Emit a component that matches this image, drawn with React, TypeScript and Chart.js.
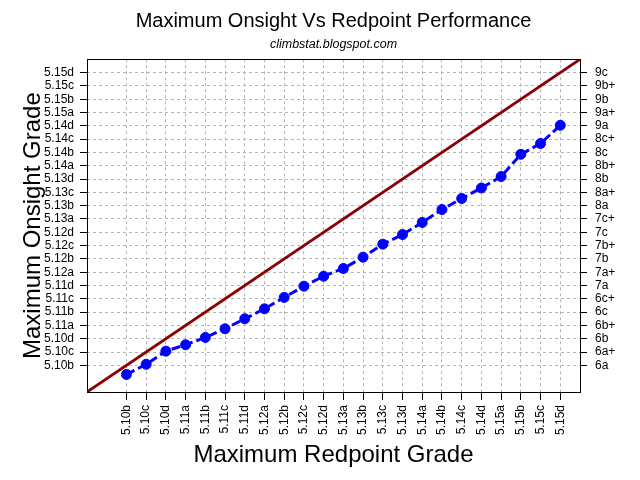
import React, { useEffect, useRef } from "react";
import { Chart, registerables } from "chart.js";

Chart.register(...registerables);

// Redpoint grades (x categories) and left-axis onsight grades (YDS)
const gradesYDS = [
  "5.10b", "5.10c", "5.10d", "5.11a", "5.11b", "5.11c", "5.11d",
  "5.12a", "5.12b", "5.12c", "5.12d", "5.13a", "5.13b", "5.13c", "5.13d",
  "5.14a", "5.14b", "5.14c", "5.14d", "5.15a", "5.15b", "5.15c", "5.15d",
];

// Right-axis French grades
const gradesFrench = [
  "6a", "6a+", "6b", "6b+", "6c", "6c+", "7a", "7a+", "7b", "7b+", "7c", "7c+",
  "8a", "8a+", "8b", "8b+", "8c", "8c+", "9a", "9a+", "9b", "9b+", "9c",
];

// Maximum onsight grade (in grade-index units) for each redpoint grade
const onsightIndex = [
  -0.68, 0.08, 1.07, 1.55, 2.1, 2.75, 3.5, 4.25, 5.11, 5.95, 6.7, 7.28,
  8.13, 9.11, 9.83, 10.74, 11.71, 12.54, 13.33, 14.19, 15.86, 16.67, 18.04,
];

// Equality reference line (onsight = redpoint)
const equalityLine = [-2, 23];

const AXIS_MIN = -2;
const AXIS_MAX = 23;
const FONT = "'Liberation Sans', Arial, Helvetica, sans-serif";
const GRID = "#b4b4b4";

const setIndexTicks = (scale: any) => {
  scale.ticks = gradesYDS.map((_, i) => ({ value: i }));
};

const boxPlugin = {
  id: "plotBox",
  beforeDatasetsDraw(chart: any) {
    const { ctx, chartArea: a } = chart;
    ctx.save();
    ctx.strokeStyle = "#000";
    ctx.lineWidth = 1;
    ctx.setLineDash([]);
    const l = Math.floor(a.left) + 0.5;
    const t = Math.floor(a.top) + 0.5;
    const r = Math.floor(a.right) + 0.5;
    const b = Math.floor(a.bottom) + 0.5;
    ctx.strokeRect(l, t, r - l, b - t);
    ctx.restore();
  },
};

export default function App() {
  const canvasRef = useRef<HTMLCanvasElement | null>(null);

  useEffect(() => {
    if (!canvasRef.current) return;
    const chart = new Chart(canvasRef.current, {
      type: "scatter",
      data: {
        datasets: [
          {
            label: "Onsight = Redpoint",
            data: equalityLine.map((v) => ({ x: v, y: v })),
            borderColor: "#8b0000",
            backgroundColor: "#8b0000",
            borderWidth: 2.8,
            pointRadius: 0,
            showLine: true,
          },
          {
            label: "Maximum Onsight",
            data: onsightIndex.map((v, i) => ({ x: i, y: v })),
            borderColor: "#0000ff",
            backgroundColor: "#0000ff",
            borderWidth: 3,
            borderDash: [9, 4],
            pointRadius: 5,
            pointBorderWidth: 1,
            showLine: true,
          },
        ],
      },
      options: {
        animation: false,
        responsive: false,
        layout: { padding: 0 },
        plugins: {
          legend: { display: false },
          tooltip: { enabled: false },
          title: {
            display: true,
            text: "Maximum Onsight Vs Redpoint Performance",
            color: "#000",
            fullSize: false,
            font: { family: FONT, size: 20, weight: "normal" },
            padding: { top: 9.4, bottom: 0 },
          },
          subtitle: {
            display: true,
            text: "climbstat.blogspot.com",
            color: "#000",
            fullSize: false,
            font: { family: FONT, size: 12.5, style: "italic", weight: "normal" },
            padding: { top: 3.8, bottom: 7.1 },
          },
        },
        scales: {
          x: {
            type: "linear",
            position: "bottom",
            min: AXIS_MIN,
            max: AXIS_MAX,
            afterBuildTicks: setIndexTicks,
            afterFit: (s: any) => {
              s.height = 88;
            },
            ticks: {
              autoSkip: false,
              minRotation: 90,
              maxRotation: 90,
              padding: 5,
              color: "#000",
              font: { family: FONT, size: 12 },
              callback: (v: any) => gradesYDS[Math.round(v)] ?? "",
            },
            grid: {
              color: GRID,
              lineWidth: 1,
              tickLength: 8,
              tickColor: "#000",
              tickWidth: 1,
              tickBorderDash: [],
            },
            border: { display: false, dash: [3, 3] },
            title: {
              display: true,
              text: "Maximum Redpoint Grade",
              color: "#000",
              font: { family: FONT, size: 24 },
              padding: { top: 0, bottom: 10 },
            },
          },
          y: {
            type: "linear",
            position: "left",
            min: AXIS_MIN,
            max: AXIS_MAX,
            afterBuildTicks: setIndexTicks,
            afterFit: (s: any) => {
              s.width = 87;
            },
            ticks: {
              autoSkip: false,
              padding: 6,
              color: "#000",
              font: { family: FONT, size: 12 },
              callback: (v: any) => gradesYDS[Math.round(v)] ?? "",
            },
            grid: {
              color: GRID,
              lineWidth: 1,
              tickLength: 7,
              tickColor: "#000",
              tickWidth: 1,
              tickBorderDash: [],
            },
            border: { display: false, dash: [3, 3] },
            title: {
              display: true,
              text: "Maximum Onsight Grade",
              color: "#000",
              font: { family: FONT, size: 24 },
              padding: { top: 18.5, bottom: 0 },
            },
          },
          y2: {
            type: "linear",
            position: "right",
            min: AXIS_MIN,
            max: AXIS_MAX,
            afterBuildTicks: setIndexTicks,
            afterFit: (s: any) => {
              s.width = 60;
            },
            ticks: {
              autoSkip: false,
              padding: 8,
              color: "#000",
              font: { family: FONT, size: 12 },
              callback: (v: any) => gradesFrench[Math.round(v)] ?? "",
            },
            grid: {
              drawOnChartArea: false,
              tickLength: 7,
              tickColor: "#000",
              tickWidth: 1,
              tickBorderDash: [],
            },
            border: { display: false },
          },
        },
      },
      plugins: [boxPlugin],
    } as any);
    return () => chart.destroy();
  }, []);

  return (
    <div style={{ position: "absolute", left: 0, top: 0, width: 640, height: 480, background: "#fff" }}>
      <canvas ref={canvasRef} width={640} height={480} style={{ display: "block" }} />
    </div>
  );
}
